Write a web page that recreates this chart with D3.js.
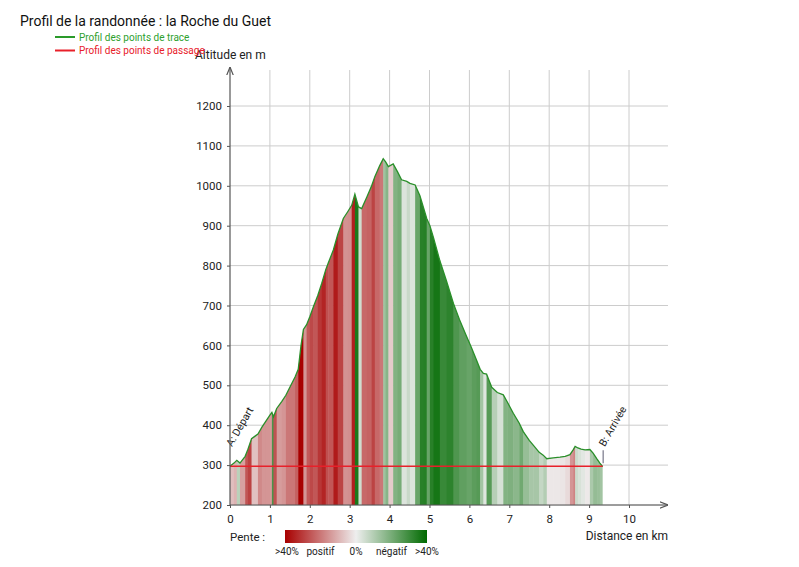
<!DOCTYPE html>
<html>
<head>
<meta charset="utf-8">
<script src="https://cdn.jsdelivr.net/npm/d3@7"></script>
<style>
	body { margin: 0; background: #fff; }
	svg { font-family: Roboto, "Open Sans", sans-serif; }
</style>
</head>
<body>
<script>
// profil des points de trace : distance (km), altitude (m)
const distances = [
	0.00, 0.10, 0.17, 0.25, 0.38, 0.45, 0.54, 0.62, 0.70, 0.80,
	0.90, 1.00, 1.05, 1.09, 1.17, 1.30, 1.40, 1.50, 1.63, 1.71,
	1.78, 1.84, 1.92, 2.00, 2.09, 2.20, 2.30, 2.40, 2.46, 2.59,
	2.70, 2.84, 2.95, 3.05, 3.13, 3.22, 3.30, 3.43, 3.55, 3.63,
	3.75, 3.84, 3.90, 3.97, 4.09, 4.20, 4.30, 4.43, 4.51, 4.64,
	4.76, 4.85, 4.93, 5.01, 5.10, 5.26, 5.43, 5.60, 5.75, 5.93,
	6.05, 6.18, 6.27, 6.35, 6.43, 6.56, 6.70, 6.85, 6.95, 7.10,
	7.25, 7.35, 7.50, 7.60, 7.75, 7.85, 7.94, 8.10, 8.27, 8.40,
	8.52, 8.60, 8.65, 8.72, 8.80, 8.90, 9.02, 9.10, 9.20, 9.27,
	9.34
];
const altitudes = [
	297, 305, 312, 305, 322, 340, 366, 372, 378, 395,
	410, 425, 432, 421, 442, 460, 475, 495, 521, 540,
	600, 640, 652, 672, 697, 725, 756, 790, 806, 839,
	878, 918, 935, 951, 979, 947, 943, 972, 1000, 1023,
	1050, 1068, 1060, 1048, 1055, 1035, 1015, 1011, 1006, 1002,
	975, 945, 918, 900, 870, 812, 760, 705, 665, 622,
	595, 563, 540, 530, 528, 495, 482, 476, 458, 430,
	405, 384, 362, 350, 332, 325, 316, 318, 320, 322,
	326, 338, 347, 343, 340, 338, 339, 330, 315, 305,
	296
];

// profil des points de passage
const passageNames = ["A: Départ", "B: Arrivée"];
const passageDistances = [0, 9.34];
const passageAltitudes = [297, 297];

const xTicks = [0, 1, 2, 3, 4, 5, 6, 7, 8, 9, 10];
const yTicks = [200, 300, 400, 500, 600, 700, 800, 900, 1000, 1100, 1200];

const penteLabels = [">40%", "positif", "0%", "négatif", ">40%"];
const penteLabelPos = [-0.4, -0.2, 0, 0.2, 0.4];

const width = 799, height = 567;

const x = d3.scaleLinear().domain([0, 10]).range([230, 629]);
const y = d3.scaleLinear().domain([200, 1200]).range([505, 106]);

// pente > 0 : rouge, pente < 0 : vert
const pente = d3.scaleLinear()
	.domain([0.4, 0, -0.4])
	.range(["#a80000", "#eeeeee", "#006a00"])
	.clamp(true);

const svg = d3.select("body").append("svg")
	.attr("width", width)
	.attr("height", height);

const defs = svg.append("defs");

defs.append("marker")
	.attr("id", "arrow")
	.attr("viewBox", "0 0 10 10")
	.attr("refX", 10)
	.attr("refY", 5)
	.attr("markerWidth", 7)
	.attr("markerHeight", 7)
	.attr("orient", "auto")
	.append("path")
	.attr("d", "M0,1 L10,5 L0,9")
	.attr("fill", "none")
	.attr("stroke", "#555")
	.attr("stroke-width", 1.4);

const grad = defs.append("linearGradient")
	.attr("id", "pente");
grad.selectAll("stop")
	.data([0.4, 0, -0.4])
	.enter()
	.append("stop")
	.attr("offset", (d, i) => `${i * 50}%`)
	.attr("stop-color", d => pente(d));

const points = distances.map((d, i) => ({ d, alt: altitudes[i] }));

// grille
svg.append("g")
	.selectAll("line")
	.data(yTicks)
	.enter()
	.append("line")
	.attr("stroke", "#ccc")
	.attr("x1", x(0))
	.attr("x2", 668)
	.attr("y1", d => y(d))
	.attr("y2", d => y(d));

svg.append("g")
	.selectAll("line")
	.data(xTicks.slice(1))
	.enter()
	.append("line")
	.attr("stroke", "#ccc")
	.attr("x1", d => x(d))
	.attr("x2", d => x(d))
	.attr("y1", 70)
	.attr("y2", y(200));

// bandes de pente, découpées par l'aire du profil
const area = d3.area()
	.x(p => x(p.d))
	.y0(y(200))
	.y1(p => y(p.alt));

defs.append("clipPath")
	.attr("id", "profil")
	.append("path")
	.attr("d", area(points));

const segments = points.slice(1).map((p, i) => ({
	d0: points[i].d,
	d1: p.d,
	slope: (p.alt - points[i].alt) / ((p.d - points[i].d) * 1000)
}));

svg.append("g")
	.attr("clip-path", "url(#profil)")
	.selectAll("rect")
	.data(segments)
	.enter()
	.append("rect")
	.attr("x", s => x(s.d0))
	.attr("width", s => x(s.d1) - x(s.d0) + 0.5)
	.attr("y", y(1200))
	.attr("height", y(200) - y(1200))
	.attr("fill", s => pente(s.slope));

svg.append("path")
	.datum(points)
	.attr("fill", "none")
	.attr("stroke", "#2a8f2a")
	.attr("stroke-width", 1.3)
	.attr("d", d3.line().x(p => x(p.d)).y(p => y(p.alt)));

// points de passage
svg.append("path")
	.datum(passageDistances.map((d, i) => ({ d, alt: passageAltitudes[i] })))
	.attr("fill", "none")
	.attr("stroke", "#e8202a")
	.attr("stroke-width", 1.6)
	.attr("d", d3.line().x(p => x(p.d)).y(p => y(p.alt)));

const pg = svg.append("g")
	.selectAll("g")
	.data(passageNames)
	.enter()
	.append("g")
	.attr("transform", (d, i) => `translate(${x(passageDistances[i])},${y(passageAltitudes[i]) - 19})`);

pg.filter((d, i) => i > 0)
	.append("line")
	.attr("stroke", "#778")
	.attr("stroke-width", 1.2)
	.attr("x1", 0.5).attr("x2", 0.5)
	.attr("y1", 3).attr("y2", 16);

pg.append("text")
	.attr("transform", "translate(2,0) rotate(-60)")
	.attr("font-size", 10.5)
	.attr("fill", "#222")
	.text(d => d);

// axes
const xAxis = svg.append("g")
	.attr("transform", `translate(0,${y(200)})`)
	.call(d3.axisBottom(x).tickValues(xTicks).tickSize(3).tickFormat(d3.format("d")));
xAxis.select(".domain").remove();
xAxis.append("line")
	.attr("x1", x(0)).attr("x2", 668)
	.attr("stroke", "#555")
	.attr("stroke-width", 1.2)
	.attr("marker-end", "url(#arrow)");

const yAxis = svg.append("g")
	.attr("transform", `translate(${x(0)},0)`)
	.call(d3.axisLeft(y).tickValues(yTicks).tickSize(3).tickFormat(d3.format("d")));
yAxis.select(".domain").remove();
yAxis.append("line")
	.attr("y1", y(200)).attr("y2", 67)
	.attr("stroke", "#555")
	.attr("stroke-width", 1.2)
	.attr("marker-end", "url(#arrow)");

svg.selectAll(".tick line").attr("stroke", "#555");
svg.selectAll(".tick text")
	.attr("font-family", "Roboto, sans-serif")
	.attr("font-size", 11.5)
	.attr("fill", "#222");
xAxis.selectAll(".tick text").attr("dy", "1em");
yAxis.selectAll(".tick text").attr("x", -8);

svg.append("text")
	.attr("x", 195)
	.attr("y", 59)
	.attr("font-size", 12)
	.attr("fill", "#222")
	.text("Altitude en m");

svg.append("text")
	.attr("x", 668)
	.attr("y", 540)
	.attr("text-anchor", "end")
	.attr("font-size", 12)
	.attr("fill", "#222")
	.text("Distance en km");

// titre et légende
svg.append("text")
	.attr("x", 20)
	.attr("y", 26)
	.attr("font-size", 14)
	.attr("fill", "#111")
	.text("Profil de la randonnée : la Roche du Guet");

const legend = [
	{ label: "Profil des points de trace", colour: "#2a9a2a", text: "#2ea02e" },
	{ label: "Profil des points de passage", colour: "#e8202a", text: "#e8202a" }
];

const lg = svg.append("g")
	.selectAll("g")
	.data(legend)
	.enter()
	.append("g")
	.attr("transform", (d, i) => `translate(55,${37 + i * 13.5})`);

lg.append("line")
	.attr("x1", 0).attr("x2", 20)
	.attr("stroke", d => d.colour)
	.attr("stroke-width", 2);

lg.append("text")
	.attr("x", 24)
	.attr("dy", "0.35em")
	.attr("font-size", 10)
	.attr("fill", d => d.text)
	.text(d => d.label);

// légende des pentes
const px = d3.scaleLinear().domain([-0.4, 0.4]).range([285, 427]);

svg.append("text")
	.attr("x", 230)
	.attr("y", 541)
	.attr("font-size", 11.5)
	.attr("fill", "#222")
	.text("Pente :");

svg.append("rect")
	.attr("x", px(-0.4))
	.attr("y", 530)
	.attr("width", px(0.4) - px(-0.4))
	.attr("height", 13)
	.attr("fill", "url(#pente)");

svg.append("g")
	.selectAll("text")
	.data(penteLabels)
	.enter()
	.append("text")
	.attr("x", (d, i) => px(penteLabelPos[i]) + (i === 0 ? 2 : 0))
	.attr("y", 555)
	.attr("text-anchor", "middle")
	.attr("font-size", 10)
	.attr("fill", "#222")
	.text(d => d);
</script>
</body>
</html>
